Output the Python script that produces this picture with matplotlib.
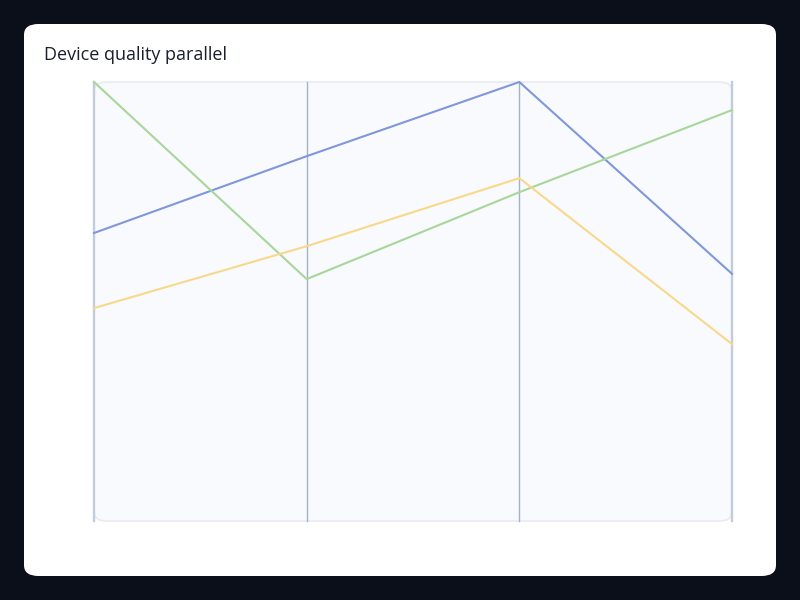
import matplotlib
matplotlib.use("Agg")
import matplotlib.pyplot as plt
from matplotlib.patches import FancyBboxPatch

# Data (normalized per axis, 0 = bottom, 1 = top)
dimensions = ["Dim 1", "Dim 2", "Dim 3", "Dim 4"]
series_blue = [0.656, 0.831, 1.000, 0.563]
series_green = [1.000, 0.551, 0.749, 0.936]
series_yellow = [0.485, 0.626, 0.781, 0.403]
series = [series_blue, series_green, series_yellow]
colors = ["#8098db", "#a9d69a", "#f8d98b"]

W, H = 800, 600
fig = plt.figure(figsize=(8, 6), dpi=100)
fig.patch.set_facecolor("#0b0f19")

card = FancyBboxPatch((24 / W, 24 / H), 752 / W, 552 / H,
                      boxstyle="round,pad=0,rounding_size=0.018",
                      transform=fig.transFigure, facecolor="white",
                      edgecolor="none", zorder=-5)
fig.patches.append(card)

fig.text(44 / W, 1 - 55 / H, "Device quality parallel", fontsize=13,
         color="#1a1f2e", va="center", ha="left", family=["Open Sans", "DejaVu Sans"])

left, right, top, bottom = 94, 732, 82, 521
ax = fig.add_axes([left / W, 1 - bottom / H, (right - left) / W, (bottom - top) / H])
ax.set_zorder(2)
ax.set_facecolor("none")
n = len(dimensions)
xs = list(range(n))
ax.set_xlim(0, n - 1)
ax.set_ylim(0, 1)
for s in ax.spines.values():
    s.set_visible(False)
ax.set_xticks([])
ax.set_yticks([])

bg = FancyBboxPatch((0, 0), 1, 1, boxstyle="round,pad=0,rounding_size=0.02",
                    transform=ax.transAxes, facecolor="#f8fafd",
                    edgecolor="#e8ebf1", linewidth=1.2, zorder=0, clip_on=False)
ax.add_patch(bg)

for i, x in enumerate(xs):
    if i == 0 or i == n - 1:
        ax.axvline(x, color="#c3ccdb", linewidth=1.7, zorder=1, clip_on=False)
    else:
        ax.axvline(x, color="#a5b2c5", linewidth=1.0, zorder=1, clip_on=False)

for vals, c in zip(series, colors):
    ax.plot(xs, vals, color=c, linewidth=1.5, zorder=3, clip_on=False,
            solid_joinstyle="miter")

fig.savefig("out.png", dpi=100, facecolor=fig.get_facecolor())
